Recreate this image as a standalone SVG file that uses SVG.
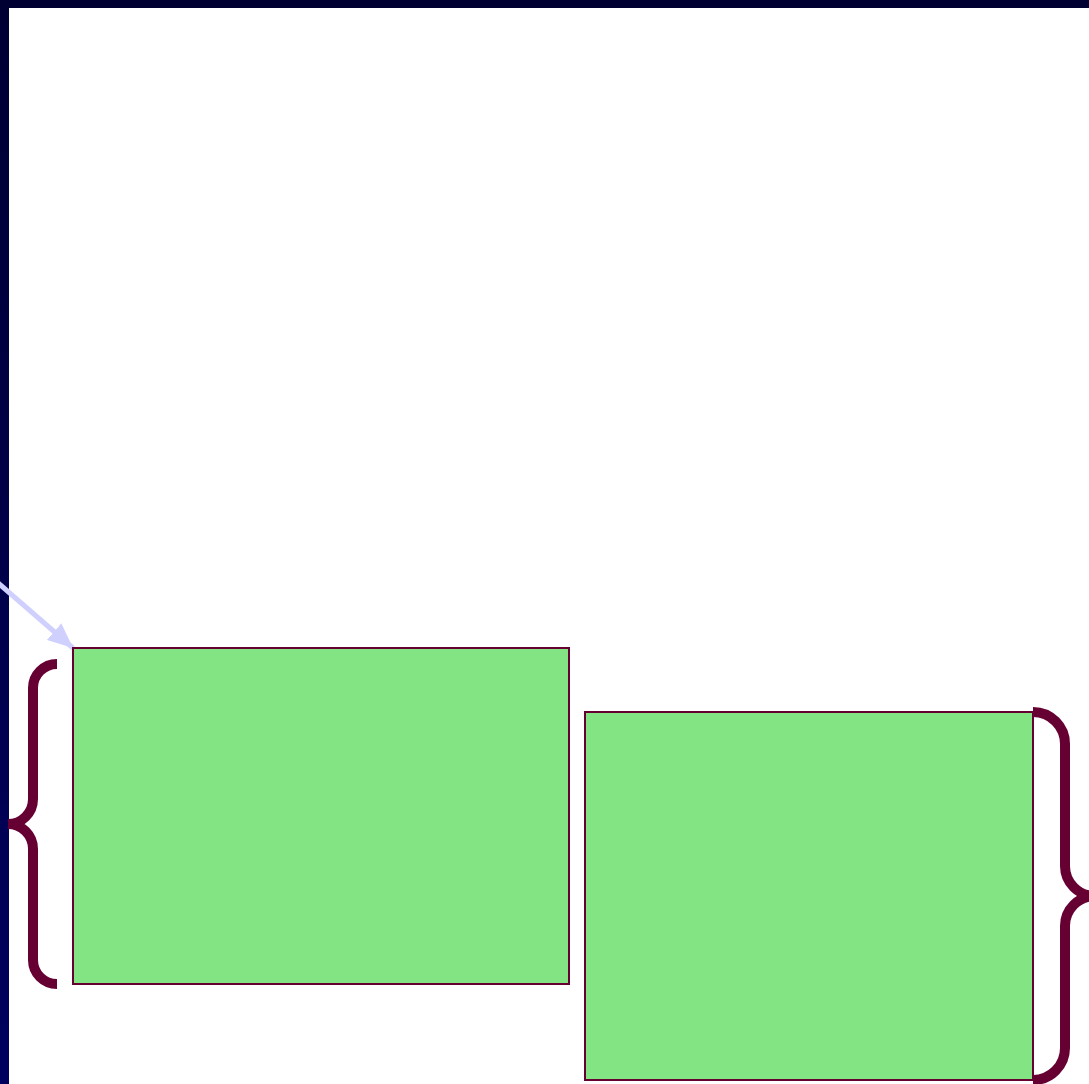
<svg xmlns="http://www.w3.org/2000/svg" width="1089" height="1084" viewBox="0 0 1089 1084">
  <defs>
    <linearGradient id="leftbar" x1="0" y1="0" x2="0" y2="1">
      <stop offset="0" stop-color="#000033"/>
      <stop offset="1" stop-color="#00005f"/>
    </linearGradient>
    <marker id="ah" viewBox="0 0 10 10" refX="10" refY="5" markerWidth="5" markerHeight="4.4" orient="auto" markerUnits="strokeWidth" preserveAspectRatio="none">
      <path d="M0,0 L10,5 L0,10 Z" fill="#d0d0ff"/>
    </marker>
    <style>
      .box { fill: #83e483; stroke: #660033; stroke-width: 2; }
      .brace { fill: none; stroke: #660033; stroke-width: 10; }
      .conn { fill: none; stroke: #d0d0ff; stroke-width: 5; }
    </style>
  </defs>
  <rect x="0" y="0" width="1089" height="1084" fill="#ffffff"/>
  <rect x="0" y="0" width="1089" height="8" fill="#000033"/>
  <rect x="0" y="0" width="9" height="1084" fill="url(#leftbar)"/>

  <g id="connectors">
    <path class="conn" d="M-10,576 L73,648" marker-end="url(#ah)"/>
  </g>

  <g id="node-1">
    <rect class="box" x="73" y="648" width="496" height="336"/>
  </g>
  <g id="node-2">
    <rect class="box" x="585" y="712" width="448" height="368"/>
  </g>

  <g id="brace-left">
    <path class="brace" d="M57,664 A24,24 0 0 0 33,688 L33,799 A25,25 0 0 1 8,824 A25,25 0 0 1 33,849 L33,960 A24,24 0 0 0 57,984"/>
  </g>
  <g id="brace-right">
    <path class="brace" d="M1033,712 A32,32 0 0 1 1065,744 L1065,866 A30,30 0 0 0 1095,896 A30,30 0 0 0 1065,926 L1065,1048 A32,32 0 0 1 1033,1080"/>
  </g>
</svg>
